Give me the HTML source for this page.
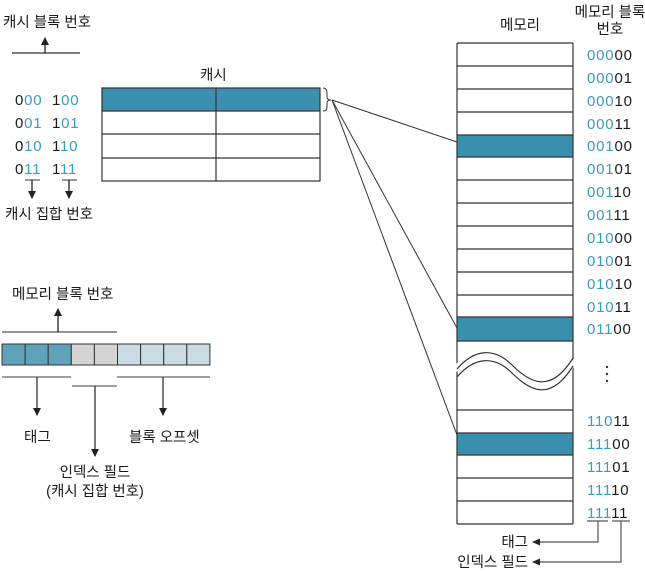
<!DOCTYPE html>
<html><head><meta charset="utf-8">
<style>
html,body{margin:0;padding:0;background:#fff;}
svg{display:block;}
text{font-family:"Liberation Sans","Noto Sans CJK KR",sans-serif;fill:#1a1a1a;}
.k{font-size:14.5px;}
.n{font-size:15px;letter-spacing:0.8px;}
.b{fill:#3a9ac0;}
</style></head><body>
<svg width="645" height="572" viewBox="0 0 645 572" xmlns="http://www.w3.org/2000/svg">
<defs>
<marker id="ar" markerWidth="8" markerHeight="8" refX="7" refY="4" orient="auto" markerUnits="userSpaceOnUse">
<path d="M0,0 L8,4 L0,8 Z" fill="#222"/></marker>
</defs>

<text class="k" x="3" y="27">캐시 블록 번호</text>
<line x1="12" y1="53" x2="80" y2="53" stroke="#333" stroke-width="1.2"/>
<line x1="45" y1="53" x2="45" y2="38" stroke="#222" stroke-width="1.3" marker-end="url(#ar)"/>
<g class="n">
<text x="15" y="105">0<tspan class="b">00</tspan></text><text x="52" y="105">1<tspan class="b">00</tspan></text>
<text x="15" y="128">0<tspan class="b">01</tspan></text><text x="52" y="128">1<tspan class="b">01</tspan></text>
<text x="15" y="151">0<tspan class="b">10</tspan></text><text x="52" y="151">1<tspan class="b">10</tspan></text>
<text x="15" y="174">0<tspan class="b">11</tspan></text><text x="52" y="174">1<tspan class="b">11</tspan></text>
</g>
<line x1="25" y1="180" x2="40" y2="180" stroke="#333"/>
<line x1="62" y1="180" x2="77" y2="180" stroke="#333"/>
<line x1="32" y1="180" x2="32" y2="198" stroke="#222" stroke-width="1.3" marker-end="url(#ar)"/>
<line x1="69" y1="180" x2="69" y2="198" stroke="#222" stroke-width="1.3" marker-end="url(#ar)"/>
<text class="k" x="5" y="219">캐시 집합 번호</text>

<text class="k" x="200" y="80">캐시</text>
<rect x="102" y="88" width="218" height="23" fill="#3b8fae"/>
<g stroke="#333" stroke-width="1.2" fill="none">
<rect x="102" y="88" width="218" height="93"/>
<line x1="102" y1="111" x2="320" y2="111"/>
<line x1="102" y1="134" x2="320" y2="134"/>
<line x1="102" y1="158" x2="320" y2="158"/>
<line x1="216" y1="88" x2="216" y2="181"/>
<path d="M323,88 Q327,88 327,93 L327,97 Q327,100 331,100 Q327,100 327,103 L327,107 Q327,111 323,111" stroke-width="1"/>
<line x1="332" y1="100" x2="457" y2="142" stroke-width="1"/>
<line x1="332" y1="100" x2="457" y2="328" stroke-width="1"/>
<line x1="332" y1="100" x2="457" y2="435" stroke-width="1"/>
</g>

<text class="k" x="12" y="299">메모리 블록 번호</text>
<line x1="2" y1="332" x2="117" y2="332" stroke="#555" stroke-width="1.2"/>
<line x1="58" y1="332" x2="58" y2="309" stroke="#222" stroke-width="1.3" marker-end="url(#ar)"/>
<g stroke="#333" stroke-width="1">
<rect x="2" y="344" width="23.1" height="21" fill="#5fa3bb"/>
<rect x="25.1" y="344" width="23.1" height="21" fill="#5fa3bb"/>
<rect x="48.2" y="344" width="23.1" height="21" fill="#5fa3bb"/>
<rect x="71.3" y="344" width="23.1" height="21" fill="#d4d4d4"/>
<rect x="94.4" y="344" width="23.1" height="21" fill="#d4d4d4"/>
<rect x="117.5" y="344" width="23.1" height="21" fill="#c9dbe3"/>
<rect x="140.6" y="344" width="23.1" height="21" fill="#c9dbe3"/>
<rect x="163.7" y="344" width="23.1" height="21" fill="#c9dbe3"/>
<rect x="186.8" y="344" width="23.1" height="21" fill="#c9dbe3"/>
</g>
<g stroke="#666" stroke-width="1.2">
<line x1="2" y1="377" x2="71" y2="377"/>
<line x1="72" y1="386" x2="117" y2="386"/>
<line x1="117" y1="377" x2="210" y2="377"/>
</g>
<line x1="37" y1="377" x2="37" y2="415" stroke="#333" stroke-width="1.3" marker-end="url(#ar)"/>
<line x1="95" y1="386" x2="95" y2="456" stroke="#333" stroke-width="1.3" marker-end="url(#ar)"/>
<line x1="163" y1="377" x2="163" y2="415" stroke="#333" stroke-width="1.3" marker-end="url(#ar)"/>
<text class="k" x="24" y="442">태그</text>
<text class="k" x="129" y="442">블록 오프셋</text>
<text class="k" x="95" y="477" text-anchor="middle">인덱스 필드</text>
<text class="k" x="95" y="496" text-anchor="middle">(캐시 집합 번호)</text>

<text class="k" x="500" y="30">메모리</text>
<text class="k" x="610" y="17" text-anchor="middle">메모리 블록</text>
<text class="k" x="610" y="34" text-anchor="middle">번호</text>
<rect x="457" y="135" width="116" height="22" fill="#3b8fae"/>
<rect x="457" y="317" width="116" height="24" fill="#3b8fae"/>
<rect x="457" y="433" width="116" height="22" fill="#3b8fae"/>
<g stroke="#333" stroke-width="1.2" fill="none">
<line x1="457" y1="43" x2="457" y2="524"/>
<line x1="573" y1="43" x2="573" y2="524"/>
<line x1="457" y1="43" x2="573" y2="43"/>
<line x1="457" y1="66" x2="573" y2="66"/>
<line x1="457" y1="89" x2="573" y2="89"/>
<line x1="457" y1="112" x2="573" y2="112"/>
<line x1="457" y1="135" x2="573" y2="135"/>
<line x1="457" y1="157" x2="573" y2="157"/>
<line x1="457" y1="180" x2="573" y2="180"/>
<line x1="457" y1="203" x2="573" y2="203"/>
<line x1="457" y1="226" x2="573" y2="226"/>
<line x1="457" y1="249" x2="573" y2="249"/>
<line x1="457" y1="272" x2="573" y2="272"/>
<line x1="457" y1="295" x2="573" y2="295"/>
<line x1="457" y1="317" x2="573" y2="317"/>
<line x1="457" y1="341" x2="573" y2="341"/>
<line x1="457" y1="410" x2="573" y2="410"/>
<line x1="457" y1="433" x2="573" y2="433"/>
<line x1="457" y1="455" x2="573" y2="455"/>
<line x1="457" y1="478" x2="573" y2="478"/>
<line x1="457" y1="501" x2="573" y2="501"/>
<line x1="457" y1="524" x2="573" y2="524"/>
</g>
<path d="M452,368 C472,346 495,346 512,365 S550,398 578,352 L578,360 C552,406 528,392 512,373 S472,356 452,376 Z" fill="#fff" stroke="none"/>
<path d="M457,369 C475,348 495,348 512,365 S550,395 573,358" fill="none" stroke="#333" stroke-width="1.2"/>
<path d="M457,377 C475,356 495,356 512,373 S550,403 573,366" fill="none" stroke="#333" stroke-width="1.2"/>

<g class="n">
<text x="587" y="60"><tspan class="b">000</tspan>00</text>
<text x="587" y="83"><tspan class="b">000</tspan>01</text>
<text x="587" y="106"><tspan class="b">000</tspan>10</text>
<text x="587" y="129"><tspan class="b">000</tspan>11</text>
<text x="587" y="151"><tspan class="b">001</tspan>00</text>
<text x="587" y="174"><tspan class="b">001</tspan>01</text>
<text x="587" y="197"><tspan class="b">001</tspan>10</text>
<text x="587" y="220"><tspan class="b">001</tspan>11</text>
<text x="587" y="243"><tspan class="b">010</tspan>00</text>
<text x="587" y="266"><tspan class="b">010</tspan>01</text>
<text x="587" y="289"><tspan class="b">010</tspan>10</text>
<text x="587" y="312"><tspan class="b">010</tspan>11</text>
<text x="587" y="334"><tspan class="b">011</tspan>00</text>
<text x="587" y="426"><tspan class="b">110</tspan>11</text>
<text x="587" y="449"><tspan class="b">111</tspan>00</text>
<text x="587" y="472"><tspan class="b">111</tspan>01</text>
<text x="587" y="495"><tspan class="b">111</tspan>10</text>
<text x="587" y="518"><tspan class="b">111</tspan>11</text>
</g>
<g fill="#333">
<circle cx="607" cy="367" r="1.2"/><circle cx="607" cy="374" r="1.2"/><circle cx="607" cy="381" r="1.2"/>
</g>
<g stroke="#555" stroke-width="1.2" fill="none">
<line x1="587" y1="521" x2="608" y2="521"/>
<line x1="612" y1="521" x2="630" y2="521"/>
<polyline points="598,521 598,542 536,542"/>
<polyline points="621,521 621,562 536,562"/>
</g>
<path d="M532,542 L540,538.5 L540,545.5 Z" fill="#222"/>
<path d="M532,562 L540,558.5 L540,565.5 Z" fill="#222"/>
<text class="k" x="528" y="547" text-anchor="end">태그</text>
<text class="k" x="528" y="567" text-anchor="end">인덱스 필드</text>
</svg>
</body></html>
